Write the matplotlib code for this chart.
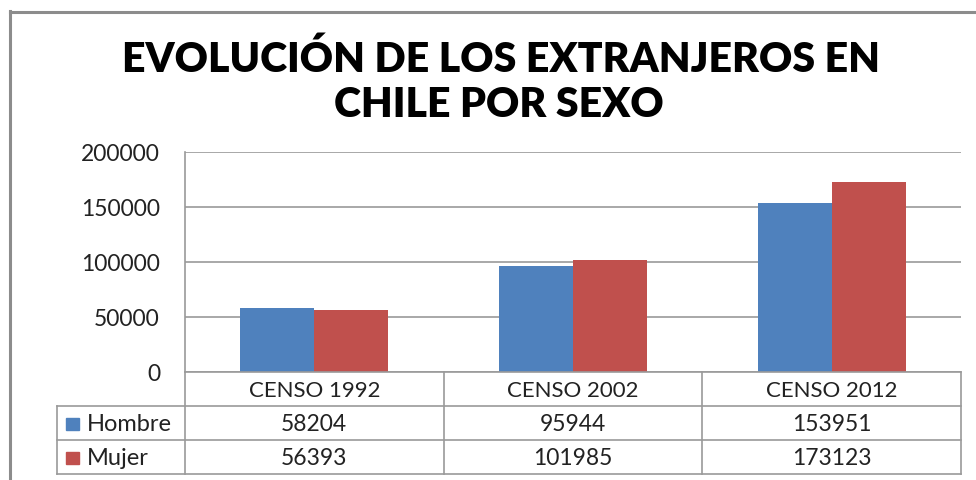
import matplotlib
matplotlib.use("Agg")
import matplotlib.pyplot as plt
from matplotlib.lines import Line2D
from matplotlib.patches import Rectangle

categories = ["CENSO 1992", "CENSO 2002", "CENSO 2012"]
series_names = ["Hombre", "Mujer"]
hombre = [58204, 95944, 153951]
mujer = [56393, 101985, 173123]
yticks = [0, 50000, 100000, 150000, 200000]
title_lines = ["EVOLUCIÓN DE LOS EXTRANJEROS EN", "CHILE POR SEXO"]

colors = ["#4F81BD", "#C0504D"]
W, H = 976, 481
FONT = "Lato"
TXT = 16.5

fig = plt.figure(figsize=(W / 100, H / 100), dpi=100)
fig.patch.set_facecolor("white")

def fx(x):
    return x / W

def fy(y):
    return 1 - y / H

# outer border (left & top)
fig.add_artist(Line2D([fx(10), fx(10)], [fy(12), fy(481)], color="#8C8C8C", lw=2.2))
fig.add_artist(Line2D([fx(10), fx(976)], [fy(13), fy(13)], color="#8C8C8C", lw=2.2))

# title
fig.text(fx(501), fy(59), title_lines[0], ha="center", va="center",
         fontsize=29.5, fontweight="heavy", family=FONT, color="black")
fig.text(fx(499), fy(105), title_lines[1], ha="center", va="center",
         fontsize=29.5, fontweight="heavy", family=FONT, color="black")

# plot area
L, R, T, B = 185, 961, 153, 373
ax = fig.add_axes([fx(L), fy(B), (R - L) / W, (B - T) / H])
n = len(categories)
xs = list(range(n))
bw = 1 / 3.5
ax.bar([x - bw / 2 for x in xs], hombre, width=bw, color=colors[0], zorder=3)
ax.bar([x + bw / 2 for x in xs], mujer, width=bw, color=colors[1], zorder=3)
ax.set_xlim(-0.5, n - 0.5)
ax.set_ylim(0, 200000)
ax.set_yticks(yticks)
ax.set_yticklabels([str(v) for v in yticks], family=FONT, fontsize=TXT, color="#222222")
ax.tick_params(axis="y", length=0, pad=18)
ax.set_xticks([])
ax.grid(axis="y", color="#9A9A9A", lw=1.2, zorder=0)
for s in ["top", "right", "bottom"]:
    ax.spines[s].set_visible(False)
ax.spines["left"].set_color("#9A9A9A")
ax.spines["left"].set_linewidth(1.2)

# data table
gc = "#9A9A9A"
col_x = [L + i * (R - L) / n for i in range(n + 1)]
rows_y = [373, 407, 441, 475]
TL = 57

def hline(x0, x1, y):
    fig.add_artist(Line2D([fx(x0), fx(x1)], [fy(y), fy(y)], color=gc, lw=1.2))

def vline(x, y0, y1):
    fig.add_artist(Line2D([fx(x), fx(x)], [fy(y0), fy(y1)], color=gc, lw=1.2))

hline(L, R, rows_y[0])
for y in rows_y[1:]:
    hline(TL, R, y)
for x in col_x:
    vline(x, rows_y[0], rows_y[3])
vline(TL, rows_y[1], rows_y[3])

for i, c in enumerate(categories):
    cx = (col_x[i] + col_x[i + 1]) / 2
    fig.text(fx(cx), fy((rows_y[0] + rows_y[1]) / 2 + 1), c, ha="center", va="center",
             family=FONT, fontsize=TXT - 0.5, color="#222222")

for r, (name, vals) in enumerate(zip(series_names, [hombre, mujer])):
    ymid = (rows_y[r + 1] + rows_y[r + 2]) / 2 + 1
    fig.add_artist(Rectangle((fx(66), fy(ymid + 6)), 13 / W, 12 / H,
                             transform=fig.transFigure, color=colors[r]))
    fig.text(fx(87), fy(ymid), name, ha="left", va="center",
             family=FONT, fontsize=TXT + 0.5, color="#222222")
    for i, v in enumerate(vals):
        cx = (col_x[i] + col_x[i + 1]) / 2
        fig.text(fx(cx), fy(ymid), str(v), ha="center", va="center",
                 family=FONT, fontsize=TXT, color="#222222")

fig.savefig("out.png", dpi=100, facecolor="white")
